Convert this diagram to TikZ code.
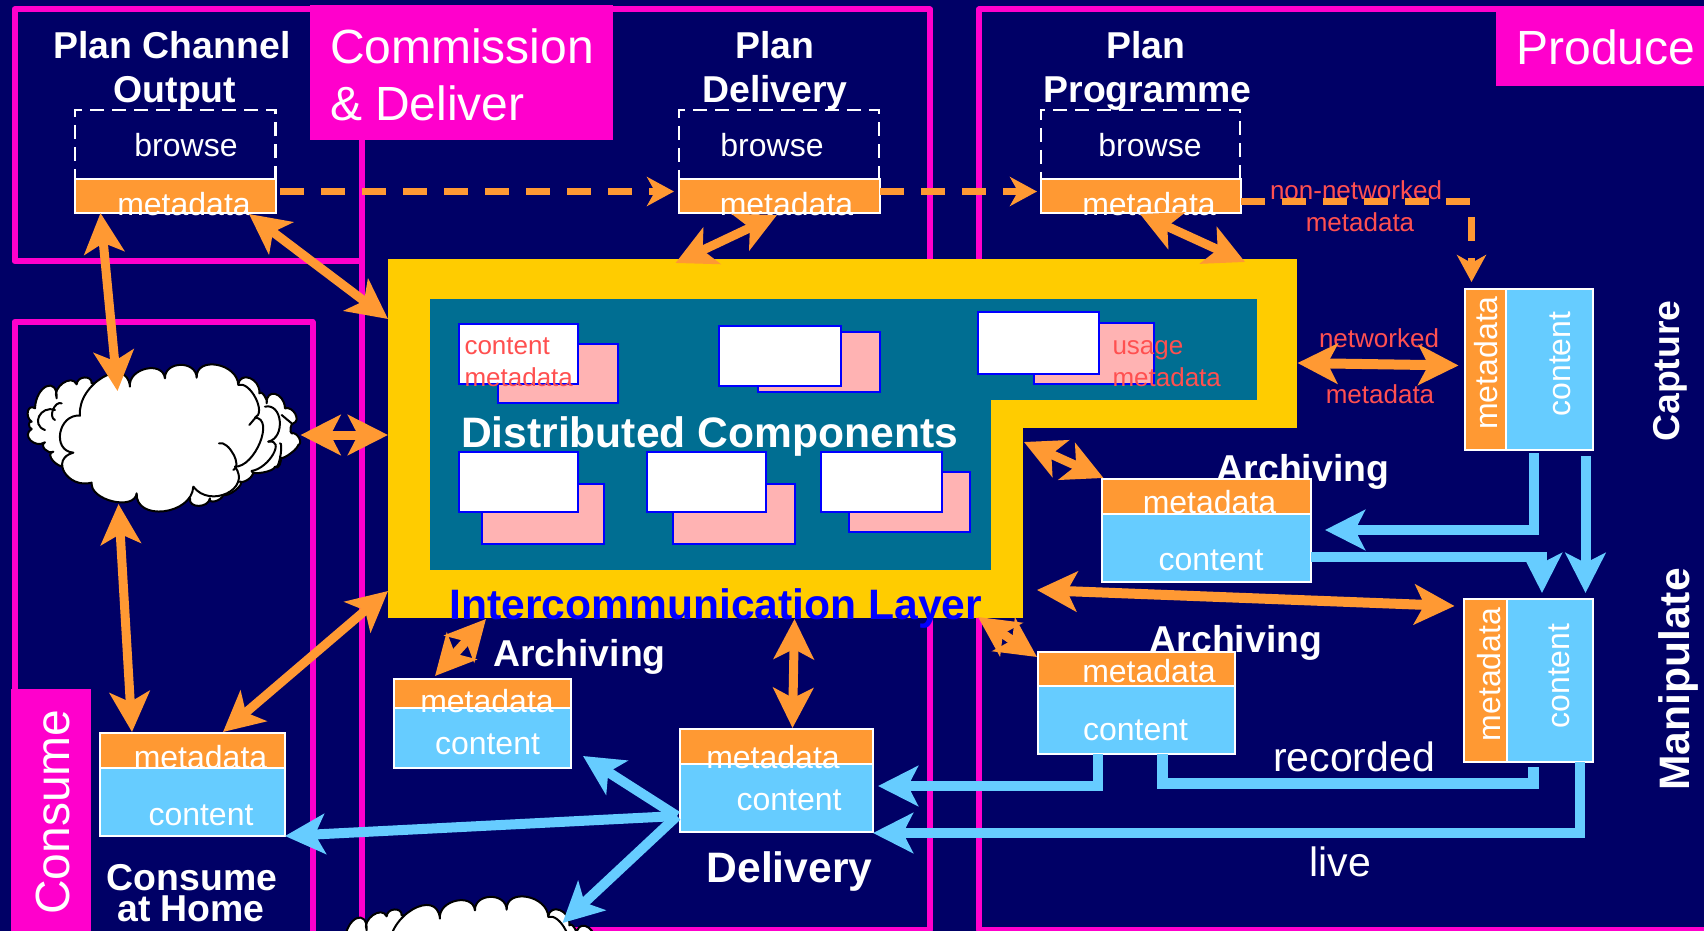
\documentclass[tikz,border=0pt]{standalone}
\usepackage{fontspec}
\setmainfont{Liberation Sans}
\usetikzlibrary{arrows.meta,calc}
\definecolor{navybg}{HTML}{000066}
\definecolor{panelpink}{HTML}{FF00CC}
\definecolor{layeryellow}{HTML}{FFCC00}
\definecolor{tealfill}{HTML}{006E92}
\definecolor{orangefill}{HTML}{FF9933}
\definecolor{skyfill}{HTML}{66CCFF}
\definecolor{cardpink}{HTML}{FFB3B3}
\definecolor{redtext}{HTML}{FF5050}
% One puff of a cloud: start, top of the puff, end
\newcommand{\bump}[3]{.. controls ($0.33*(#1)+1.33*(#2)-0.67*(#3)$) and ($0.33*(#3)+1.33*(#2)-0.67*(#1)$) .. (#3)}
\tikzset{
    big/.tip={Stealth[length=20pt,width=20pt,inset=5pt]},
    small/.tip={Stealth[length=13.5pt,width=14.5pt,inset=4pt]},
    sz/.style 2 args={minimum width=#1*0.5pt, minimum height=#2*0.5pt},
    panel/.style={draw=panelpink, line width=3pt, line join=round},
    block/.style={inner sep=0pt, outer sep=0pt, anchor=north west},
    solidfill/.style={block, fill=#1},
    card/.style={block, draw=blue, line width=1pt, fill=#1},
    metabox/.style={block, draw=white, line width=1pt, fill=orangefill},
    contentbox/.style={block, draw=white, line width=1pt, fill=skyfill},
    browsebox/.style={block, draw=white, line width=1.4pt, dash pattern=on 7pt off 4pt},
    txt/.style={inner sep=0pt, outer sep=0pt, anchor=base, text=white},
    title/.style={txt, font=\fontsize{18.7}{22}\selectfont\bfseries},
    head/.style={txt, font=\fontsize{21.3}{25}\selectfont\bfseries},
    lbl/.style={txt, font=\fontsize{16}{19}\selectfont},
    biglbl/.style={txt, font=\fontsize{20.5}{25}\selectfont},
    stage/.style={txt, font=\fontsize{24}{29}\selectfont},
    redlbl/.style={txt, text=redtext, font=\fontsize{13}{16}\selectfont},
    orangelink/.style={draw=orangefill, line width=4.5pt, big-big},
    bluelink/.style={draw=skyfill, line width=5pt, -big},
    bluerun/.style={draw=skyfill, line width=5.5pt},
    dashlink/.style={draw=orangefill, line width=3.8pt, dash pattern=on 12pt off 8.5pt, -small},
    puff/.style={draw=black, line width=1pt, line join=round, fill=white},
    puffline/.style={draw=black, line width=1pt, line cap=round},
    cloudfig/.pic={
        % Small puffs behind
        \path[puff] (140,335) \bump{140,335}{100,320}{100,290} \bump{100,290}{75,285}{75,262}
            \bump{75,262}{32,258}{35,222} \bump{35,222}{27,210}{35,200} \bump{35,200}{24,170}{45,160}
            \bump{45,160}{80,95}{110,130} \bump{110,130}{130,85}{170,88} \bump{170,88}{195,68}{215,85}
            -- (655,90) \bump{655,90}{695,70}{718,115} \bump{718,115}{738,122}{740,145}
            \bump{740,145}{772,118}{795,160} \bump{795,160}{832,178}{820,205} \bump{820,205}{818,220}{815,235}
            \bump{815,235}{843,250}{835,270} \bump{835,270}{810,303}{780,305} \bump{780,305}{785,332}{765,335}
            \bump{765,335}{735,355}{695,348} \bump{695,348}{695,372}{660,380} \bump{660,380}{652,408}{610,420}
            \bump{610,420}{590,442}{570,430} \bump{570,430}{540,456}{510,430} -- cycle;
        % Big cloud in front
        \path[puff] (180,182) \bump{180,182}{250,68}{330,95} \bump{330,95}{380,42}{435,70}
            \bump{435,70}{485,30}{530,68} \bump{530,68}{595,30}{655,90} \bump{655,90}{712,130}{705,188}
            \bump{705,188}{725,265}{645,335} \bump{645,335}{625,418}{520,395} \bump{520,395}{435,472}{350,415}
            \bump{350,415}{280,442}{215,383} \bump{215,383}{135,355}{160,293} \bump{160,293}{122,235}{180,182} -- cycle;
        % Lines inside the cloud
        \path[puffline] (125,145) \bump{125,145}{100,165}{105,195};
        \path[puffline] (105,165) \bump{105,165}{58,185}{75,225};
        \path[puffline] (597,265) \bump{597,265}{645,300}{640,345};
        \path[puffline] (688,210) -- (705,190);
        \path[puffline] (735,155) \bump{735,155}{785,200}{745,260};
        \path[puffline] (745,260) \bump{745,260}{765,300}{695,348};
        \path[puffline] (785,180) -- (815,205);
        \path[puffline] (780,265) \bump{780,265}{788,300}{770,335};
    }
}
\begin{document}
\begin{tikzpicture}[x=0.5pt,y=-0.5pt]
    \path[use as bounding box, clip] (0,0) rectangle (1704,931);
    \fill[navybg] (0,0) rectangle (1704,931);

    % Stage panels
    \draw[panel] (14.5,9.5) rectangle (362,261);
    \draw[panel] (362,9.5) rectangle (930,929.5);
    \draw[panel] (979,9.5) rectangle (1730,929.5);
    \draw[panel] (14.5,322) rectangle (312.5,950);

    % Stage labels
    \node[solidfill=panelpink, sz={303}{135}] (commbox) at (310,5) {};
    \node[stage, anchor=base west] (commA) at (330,64) {Commission};
    \node[stage, anchor=base west] (commB) at (330,121) {\& Deliver};
    \node[solidfill=panelpink, sz={208}{79}] (prodbox) at (1496,7) {};
    \node[stage] (prodlabel) at (1606,65) {Produce};
    \node[solidfill=panelpink, sz={80}{245}] (consbox) at (11,689) {};
    \node[stage, rotate=90] (conslabel) at (69.5,812) {Consume};

    % Intercommunication layer
    \node[solidfill=layeryellow, sz={908.5}{169}] (layertop) at (388,259) {};
    \node[solidfill=layeryellow, sz={635}{190}] (layerlow) at (388,428) {};
    \node[solidfill=tealfill, sz={827}{101}] (tealtop) at (430,299) {};
    \node[solidfill=tealfill, sz={561}{170}] (teallow) at (430,400) {};

    % Distributed component cards
    \node[card=cardpink, sz={120}{59}] (backA) at (498,344) {};
    \node[card=white, sz={119}{60}] (frontA) at (459,324) {};
    \node[card=cardpink, sz={122}{60}] (backB) at (758,332) {};
    \node[card=white, sz={122}{60}] (frontB) at (719,326) {};
    \node[card=cardpink, sz={120}{61}] (backC) at (1034,323) {};
    \node[card=white, sz={121}{62}] (frontC) at (978,312) {};
    \node[card=cardpink, sz={122}{60}] (backD) at (482,484) {};
    \node[card=white, sz={119}{60}] (frontD) at (459,452) {};
    \node[card=cardpink, sz={122}{60}] (backE) at (673,484) {};
    \node[card=white, sz={119}{60}] (frontE) at (647,452) {};
    \node[card=cardpink, sz={121}{60}] (backF) at (849,472) {};
    \node[card=white, sz={121}{60}] (frontF) at (821,452) {};
    \node[redlbl, anchor=base west] (cardcontent) at (464.5,354) {content};
    \node[redlbl, anchor=base west] (cardmeta) at (464.5,386) {metadata};
    \node[redlbl, anchor=base west] (cardusage) at (1112.5,354) {usage};
    \node[redlbl, anchor=base west] (cardusemeta) at (1112.5,386) {metadata};
    \node[head, anchor=base west] (distlabel) at (461,447) {Distributed Components};
    \node[head, text=blue, anchor=base west] (layerlabel) at (449.5,619.5) {Intercommunication Layer};

    % Planning boxes
    \node[title] (chantitleA) at (172,59) {Plan Channel};
    \node[title] (chantitleB) at (175,103) {Output};
    \node[browsebox, sz={200.5}{90}] (chanbrowse) at (75,110) {};
    \node[metabox, sz={201}{34}] (chanmeta) at (75,179) {};
    \node[lbl] (chanbrowsetxt) at (186,156.5) {browse};
    \node[lbl] (chanmetatxt) at (184,215) {metadata};
    \node[title] (delivtitleA) at (775,59) {Plan};
    \node[title] (delivtitleB) at (775,103) {Delivery};
    \node[browsebox, sz={200}{90}] (delivbrowse) at (679,110) {};
    \node[metabox, sz={201}{34}] (delivmeta) at (679,179) {};
    \node[lbl] (delivbrowsetxt) at (772,156.5) {browse};
    \node[lbl] (delivmetatxt) at (786.5,215) {metadata};
    \node[title] (progtitleA) at (1146,59) {Plan};
    \node[title] (progtitleB) at (1147.5,103) {Programme};
    \node[browsebox, sz={199}{90}] (progbrowse) at (1041,110) {};
    \node[metabox, sz={200}{34}] (progmeta) at (1041,179) {};
    \node[lbl] (progbrowsetxt) at (1150,156.5) {browse};
    \node[lbl] (progmetatxt) at (1149,215) {metadata};

    % Archives
    \node[title] (archuplabel) at (1303,481) {Archiving};
    \node[metabox, sz={209}{35}] (archupmeta) at (1102,479) {};
    \node[contentbox, sz={209}{68}] (archupcontent) at (1102,514) {};
    \node[lbl] (archupmetatxt) at (1209.5,513) {metadata};
    \node[lbl] (archupcontenttxt) at (1211,570) {content};
    \node[title] (archlowlabel) at (1236,652) {Archiving};
    \node[metabox, sz={197}{34}] (archlowmeta) at (1038,652) {};
    \node[contentbox, sz={197}{68}] (archlowcontent) at (1038,686) {};
    \node[lbl] (archlowmetatxt) at (1149,682.5) {metadata};
    \node[lbl] (archlowcontenttxt) at (1135.5,740) {content};
    \node[title] (archleftlabel) at (579.5,666) {Archiving};
    \node[metabox, sz={177}{29}] (archleftmeta) at (394,679) {};
    \node[contentbox, sz={177}{60}] (archleftcontent) at (394,708) {};
    \node[lbl] (archleftmetatxt) at (487,712) {metadata};
    \node[lbl] (archleftcontenttxt) at (487.5,754) {content};

    % Delivery and home
    \node[metabox, sz={193}{35}] (delboxmeta) at (680,729) {};
    \node[contentbox, sz={193}{68}] (delcontent) at (680,764) {};
    \node[lbl] (delmetatxt) at (773,768.5) {metadata};
    \node[lbl] (delcontenttxt) at (789,810) {content};
    \node[head] (deltitle) at (789.5,882.5) {Delivery};
    \node[metabox, sz={185}{35}] (homemeta) at (100,733) {};
    \node[contentbox, sz={185}{68}] (homecontent) at (100,768) {};
    \node[lbl] (homemetatxt) at (200.5,768.5) {metadata};
    \node[lbl] (homecontenttxt) at (201,825.5) {content};
    \node[title] (hometitleA) at (192,890) {Consume};
    \node[title] (hometitleB) at (191,921.5) {at Home};

    % Capture and manipulate
    \node[metabox, sz={41.5}{161}] (capmeta) at (1464.5,289) {};
    \node[contentbox, sz={87}{161}] (capcontent) at (1506,289) {};
    \node[lbl, rotate=90] (capmetatxt) at (1497,363) {metadata};
    \node[lbl, rotate=90] (capcontenttxt) at (1570.5,364) {content};
    \node[title, rotate=90] (captitle) at (1679,371) {Capture};
    \node[metabox, sz={43.5}{163}] (manipmeta) at (1463.5,599) {};
    \node[contentbox, sz={86}{163}] (manipcontent) at (1507,599) {};
    \node[lbl, rotate=90] (manipmetatxt) at (1500,674.5) {metadata};
    \node[lbl, rotate=90] (manipcontenttxt) at (1569.5,676) {content};
    \node[head, rotate=90] (maniptitle) at (1689,679.5) {Manipulate};

    % Clouds
    \pic[scale=0.3333] at (20,355) {cloudfig};
    \coordinate (netcloud) at (163,438);
    \pic[scale=0.3333] at (330,887) {cloudfig};
    \coordinate (homecloud) at (466,973);

    % Plain labels on the links
    \node[redlbl] (nonnetA) at (1356,199) {non-networked};
    \node[redlbl] (nonnetB) at (1360,232) {metadata};
    \node[redlbl] (netA) at (1379,347) {networked};
    \node[redlbl] (netB) at (1380,403) {metadata};
    \node[biglbl] (recordedtxt) at (1354,771.5) {recorded};
    \node[biglbl] (livetxt) at (1340.5,876) {live};

    % Metadata links
    \draw[orangelink] ([shift={(25.5,0)}]chanmeta.south west) -- ([shift={(-45.5,-47)}]netcloud);
    \draw[orangelink] ([shift={(-27,1)}]chanmeta.south east) -- ([shift={(0,60)}]layertop.north west);
    \draw[orangelink] ([shift={(98,2)}]delivmeta.south west) -- ([shift={(287.5,4)}]layertop.north west);
    \draw[orangelink] ([shift={(99,1)}]progmeta.south west) -- ([shift={(-51.5,3)}]layertop.north east);
    \draw[orangelink] ([shift={(137.5,-3)}]netcloud) -- ([shift={(0,7)}]layerlow.north west);
    \draw[orangelink, line width=5pt] ([shift={(1,19.5)}]layertop.east) -- ([shift={(-6,-4)}]capmeta.west);
    \draw[orangelink] ([shift={(1,14)}]layerlow.north east) -- ([shift={(1.5,-1)}]archupmeta.north west);
    \draw[orangelink, line width=5pt] ([shift={(14,-28)}]layerlow.south east) -- ([shift={(-9,7)}]manipmeta.north west);
    \draw[orangelink] ([shift={(-45,-1)}]layerlow.south east) -- ([shift={(-1,5)}]archlowmeta.north west);
    \draw[orangelink] ([shift={(98,1)}]layerlow.south west) -- ([shift={(41,-3)}]archleftmeta.north west);
    \draw[orangelink] ([shift={(406.5,1)}]layerlow.south west) -- ([shift={(16,-1)}]delboxmeta.north);
    \draw[orangelink] ([shift={(-44.5,66)}]netcloud) -- ([shift={(32,-1)}]homemeta.north west);
    \draw[orangelink] ([shift={(123,-1)}]homemeta.north west) -- ([shift={(0,-27)}]layerlow.south west);

    % Non-networked metadata
    \draw[dashlink] ([shift={(4,-4.5)}]chanmeta.east) -- ([shift={(-5,-4.5)}]delivmeta.west);
    \draw[dashlink] ([shift={(0,-4.5)}]delivmeta.east) -- ([shift={(-4,-4.5)}]progmeta.west);
    \draw[dashlink] ([shift={(0,5.5)}]progmeta.east) -| ([shift={(7,-7)}]capmeta.north west);

    % Content flows
    \coordinate (delfork) at ([shift={(-3,18)}]delcontent.west);
    \draw[bluelink] (delfork) -- (homecontent.south east);
    \draw[bluelink] (delfork) -- ([shift={(12,-12)}]archleftcontent.south east);
    \draw[bluelink] (delfork) -- ([shift={(96.5,-50)}]homecloud);
    \draw[bluelink] ([shift={(28,3)}]capcontent.south west) |- ([shift={(14,-18)}]archupcontent.east);
    \draw[bluelink] ([shift={(0,9)}]archupcontent.east) -| ([shift={(35,-6)}]manipcontent.north west);
    \draw[bluelink] ([shift={(79.5,6)}]capcontent.south west) -- ([shift={(78.5,-6)}]manipcontent.north west);
    \draw[bluelink] ([shift={(59.5,0)}]archlowcontent.south west) |- ([shift={(5,-12)}]delcontent.east);
    \draw[bluerun] ([shift={(124,0)}]archlowcontent.south west) -- ++(0,29) -| ([shift={(26,5)}]manipcontent.south west);
    \draw[bluelink] ([shift={(73,0)}]manipcontent.south west) |- ([shift={(0,1)}]delcontent.south east);
\end{tikzpicture}
\end{document}
